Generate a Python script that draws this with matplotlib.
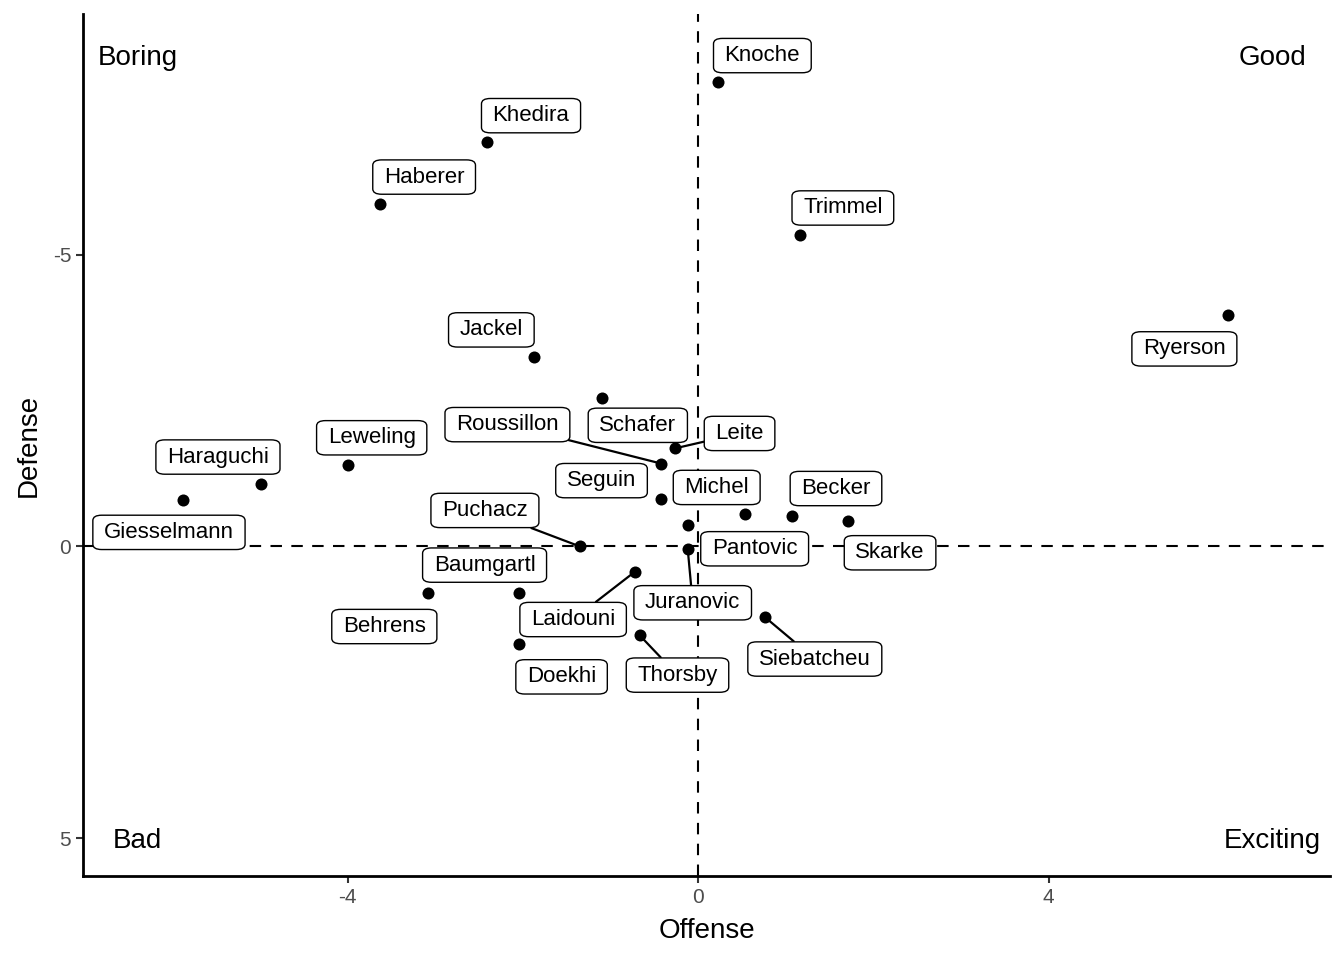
import matplotlib
matplotlib.use("Agg")
from matplotlib import pyplot as plt

plt.rcParams["font.family"] = ["Liberation Sans", "DejaVu Sans"]
plt.rcParams["axes.unicode_minus"] = False

# player values (offense, defense), defense axis is reversed
players = ["Knoche", "Khedira", "Haberer", "Trimmel", "Ryerson", "Jackel",
           "Schafer", "Leite", "Roussillon", "Seguin", "Michel", "Pantovic",
           "Becker", "Skarke", "Juranovic", "Puchacz", "Laidouni", "Behrens",
           "Baumgartl", "Doekhi", "Thorsby", "Siebatcheu", "Giesselmann",
           "Haraguchi", "Leweling"]
offense = [0.23, -2.41, -3.63, 1.16, 6.05, -1.87,
           -1.10, -0.27, -0.42, -0.43, -0.12, 0.53,
           1.07, 1.71, -0.12, -1.35, -0.72, -3.08,
           -2.05, -2.05, -0.67, 0.76, -5.88,
           -4.99, -4.00]
defense = [-7.97, -6.94, -5.87, -5.34, -3.97, -3.25,
           -2.54, -1.68, -1.42, -0.82, -0.36, -0.56,
           -0.53, -0.44, 0.04, 0.00, 0.43, 0.79,
           0.80, 1.67, 1.52, 1.21, -0.79,
           -1.07, -1.40]

# where each label sits relative to its point (pixels), like ggrepel left them
label_offsets = {
    "Knoche": (44, 28), "Khedira": (44, 28), "Haberer": (44, 29),
    "Trimmel": (43, 29), "Ryerson": (-44, -32), "Jackel": (-43, 29),
    "Schafer": (36, -25), "Leite": (65, 17), "Roussillon": (-154, 41),
    "Seguin": (-59, 20), "Michel": (29, 40), "Pantovic": (10, -33),
    "Becker": (44, 29), "Skarke": (42, -30), "Juranovic": (5, -52),
    "Puchacz": (-95, 38), "Laidouni": (-62, -46), "Behrens": (-44, -32),
    "Baumgartl": (-34, 30), "Doekhi": (43, -31), "Thorsby": (38, -38),
    "Siebatcheu": (50, -40), "Giesselmann": (-14, -30),
    "Haraguchi": (-43, 29), "Leweling": (24, 29),
}
with_segment = {"Leite", "Roussillon", "Puchacz", "Juranovic", "Laidouni",
                "Thorsby", "Siebatcheu"}

quadrants = ["Boring", "Good", "Bad", "Exciting"]
quad_x = [-6.4, 6.55, -6.4, 6.55]
quad_y = [-8.38, -8.38, 5.05, 5.05]

fig = plt.figure(figsize=(13.44, 9.6), dpi=100)
ax = fig.add_axes([0.0618, 0.0875, 0.9278, 0.898])

ax.axvline(0, color="black", lw=1.5, ls=(0, (5.5, 4.5)), zorder=1)
ax.axhline(0, color="black", lw=1.5, ls=(0, (5.5, 4.5)), zorder=1)

ax.scatter(offense, defense, s=75, color="black", zorder=3, linewidths=0)

for name, x, y in zip(players, offense, defense):
    dx, dy = label_offsets[name]
    arrow = None
    if name in with_segment:
        arrow = dict(arrowstyle="-", color="black", lw=1.6,
                     shrinkA=0, shrinkB=0)
    ax.annotate(name, xy=(x, y), xytext=(dx, dy - 2), textcoords="offset pixels",
                ha="center", va="center", fontsize=16, zorder=4,
                bbox=dict(boxstyle="round,pad=0.5,rounding_size=0.4",
                          fc="white", ec="black", lw=1.0, mutation_aspect=0.6),
                arrowprops=arrow)

for q, x, y in zip(quadrants, quad_x, quad_y):
    ax.text(x, y, q, ha="center", va="center", fontsize=20)

ax.set_xlim(-7.02, 7.21)
ax.set_ylim(5.65, -9.13)
ax.set_xticks([-4, 0, 4])
ax.set_yticks([-5, 0, 5])
ax.set_xlabel("Offense", fontsize=20, labelpad=8)
ax.set_ylabel("Defense", fontsize=20, labelpad=8)
ax.tick_params(labelsize=15, colors="#4d4d4d", length=5, width=1.5)
ax.tick_params(color="#333333")
for side in ["top", "right"]:
    ax.spines[side].set_visible(False)
for side in ["left", "bottom"]:
    ax.spines[side].set_linewidth(2)

plt.savefig("out.png", dpi=100)
